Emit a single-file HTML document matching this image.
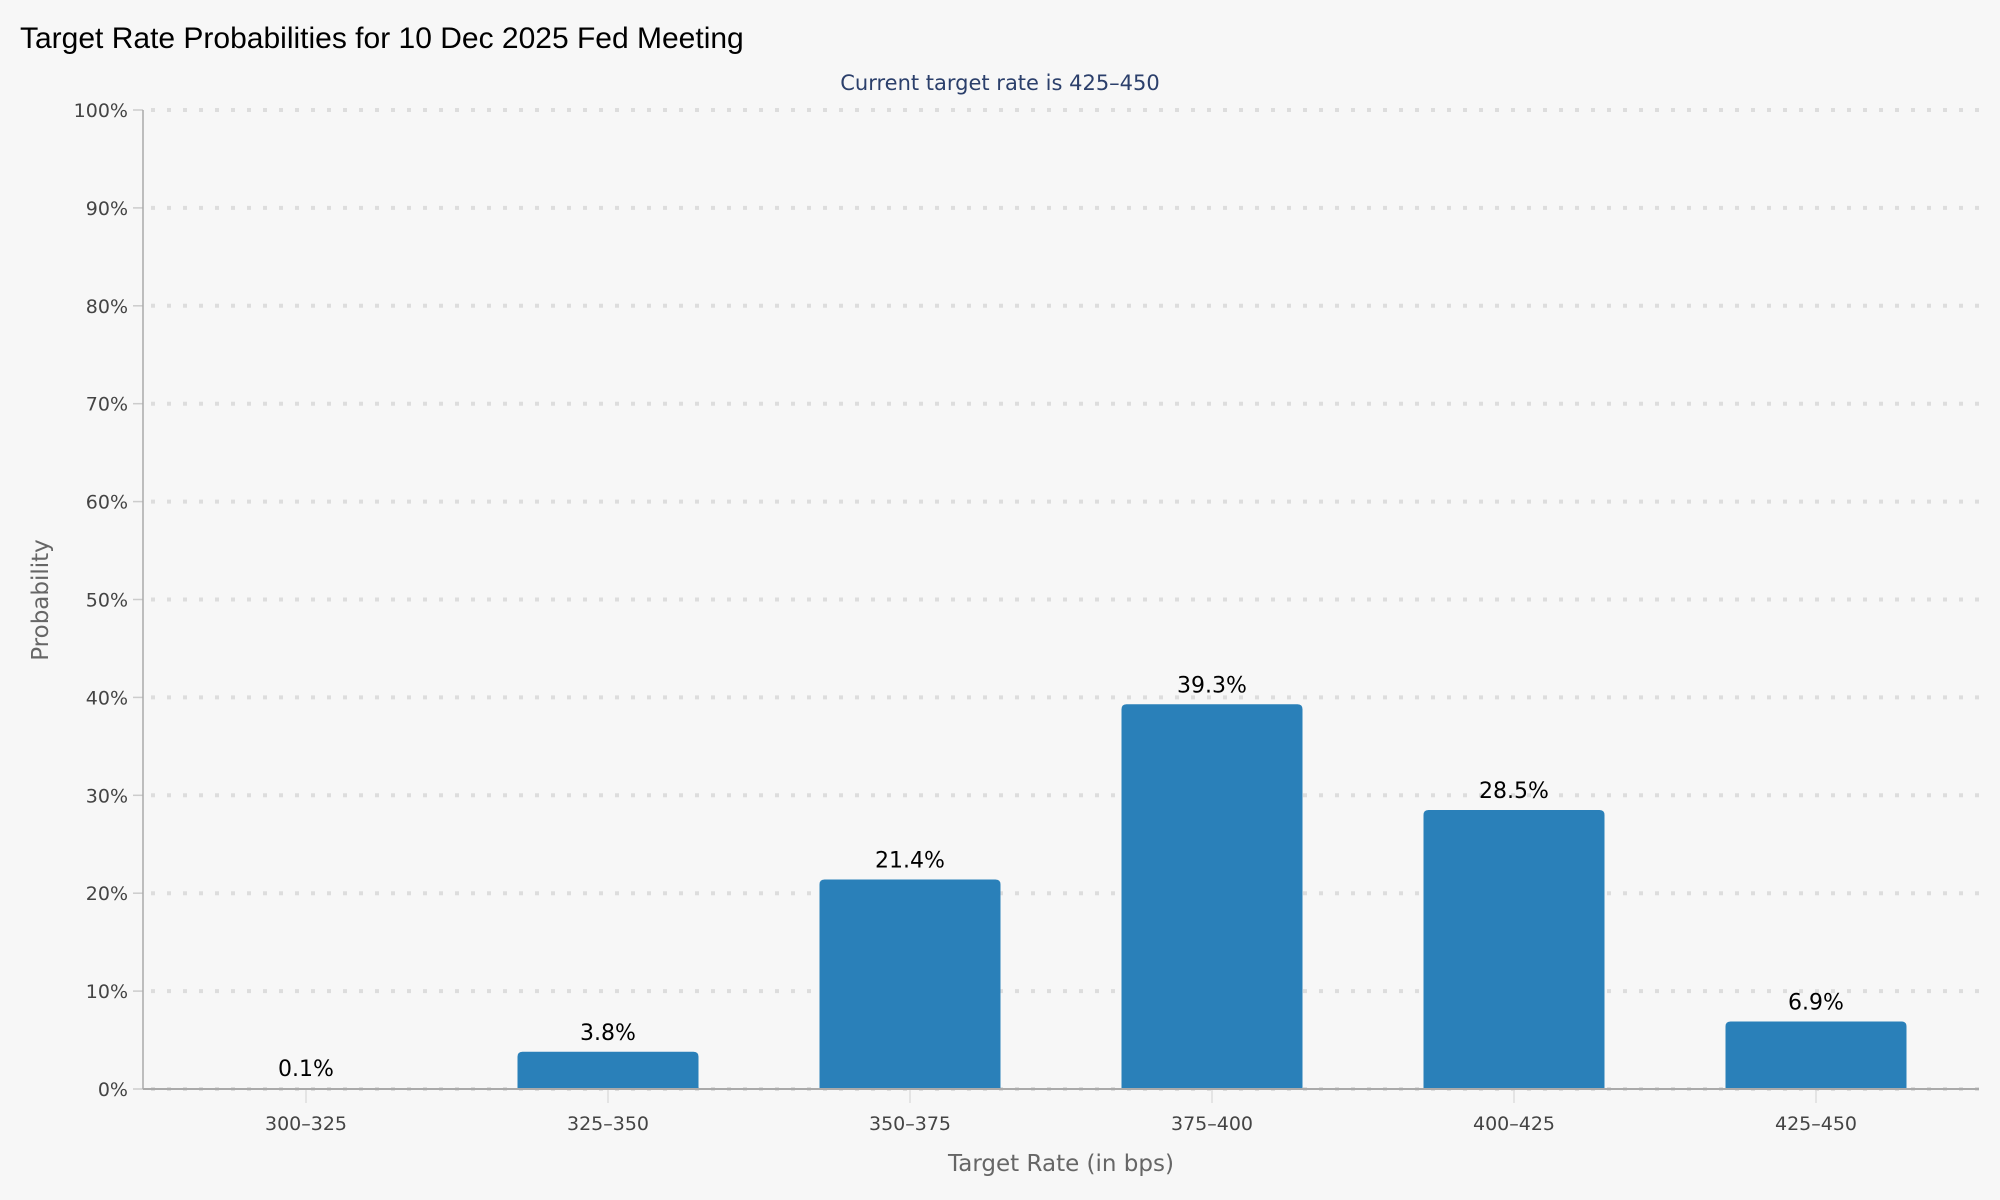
<!DOCTYPE html>
<html><head><meta charset="utf-8"><style>
html,body{margin:0;padding:0;background:#f7f7f7;}
svg{display:block;}
</style></head><body>
<svg id="chart" width="2000" height="1200" viewBox="0 0 2000 1200" xmlns="http://www.w3.org/2000/svg">
<rect width="2000" height="1200" fill="#f7f7f7"/>
<text x="20" y="48" font-family="Liberation Sans, sans-serif" font-size="30" fill="#000">Target Rate Probabilities for 10 Dec 2025 Fed Meeting</text>
<text x="1000" y="90" text-anchor="middle" font-family="DejaVu Sans, sans-serif" font-size="21" fill="#2b3f6b">Current target rate is 425–450</text>
<g id="grid"></g>
<g id="bars"></g>
<g id="labels"></g>
<line x1="143" y1="110" x2="143" y2="1089" stroke="#aaa" stroke-width="1.5"/>
<line x1="143" y1="1089" x2="1979" y2="1089" stroke="#aaa" stroke-width="2"/>
<text transform="translate(48,600) rotate(-90)" text-anchor="middle" font-family="DejaVu Sans, sans-serif" font-size="23" fill="#666">Probability</text>
<text x="1061" y="1171" text-anchor="middle" font-family="DejaVu Sans, sans-serif" font-size="23" fill="#666">Target Rate (in bps)</text>
</svg>
<script>
const categories = ["300–325","325–350","350–375","375–400","400–425","425–450"];
const probabilities = [0.1, 3.8, 21.4, 39.3, 28.5, 6.9];
const yTicks = [0,10,20,30,40,50,60,70,80,90,100];
const valueLabels = ["0.1%","3.8%","21.4%","39.3%","28.5%","6.9%"];

const NS = "http://www.w3.org/2000/svg";
const plotTop = 110, plotBottom = 1089, plotLeft = 143, plotRight = 1979;
const yScale = v => plotBottom - (v / 100) * (plotBottom - plotTop);
const band = 302, firstCenter = 306;
const xScale = i => firstCenter + i * band;
const barW = 181;

function mk(tag, attrs, parent, text) {
  const e = document.createElementNS(NS, tag);
  for (const k in attrs) e.setAttribute(k, attrs[k]);
  if (text !== undefined) e.textContent = text;
  parent.appendChild(e);
  return e;
}
const grid = document.getElementById('grid');
const bars = document.getElementById('bars');
const labels = document.getElementById('labels');

yTicks.forEach(t => {
  const y = yScale(t);
  const gl = mk('line', {x1: plotLeft + 8, y1: y, x2: plotRight, y2: y, stroke: '#dddddd', 'stroke-width': 4, 'stroke-dasharray': '4 12'}, grid);
  
  
  const tk = mk('line', {x1: plotLeft - 10, y1: y, x2: plotLeft, y2: y, stroke: '#ccc', 'stroke-width': 1.5}, grid);
  
  
  const lb = mk('text', {x: 128, y: y + 7, 'text-anchor': 'end', 'font-family': 'DejaVu Sans, sans-serif', 'font-size': 19, fill: '#444'}, labels, t + '%');
  
  
});

categories.forEach((c, i) => {
  const cx = xScale(i);
  const v = probabilities[i];
  const top = yScale(v);
  const h = plotBottom - top;
  const r = Math.min(5, h);
  if (h > 0.5) {
    const d = `M${cx - barW/2},${plotBottom} L${cx - barW/2},${top + r} Q${cx - barW/2},${top} ${cx - barW/2 + r},${top} L${cx + barW/2 - r},${top} Q${cx + barW/2},${top} ${cx + barW/2},${top + r} L${cx + barW/2},${plotBottom} Z`;
    const b = mk('path', {d: d, fill: '#2a80b9'}, bars);
    
    
  }
  const vl = mk('text', {x: cx, y: top - 12, 'text-anchor': 'middle', 'font-family': 'DejaVu Sans, sans-serif', 'font-size': 22, fill: '#000'}, labels, valueLabels[i]);
  
  
  const xt = mk('line', {x1: cx, y1: plotBottom, x2: cx, y2: plotBottom + 14, stroke: '#ddd', 'stroke-width': 1.5}, grid);
  
  
  const xl = mk('text', {x: cx, y: 1130, 'text-anchor': 'middle', 'font-family': 'DejaVu Sans, sans-serif', 'font-size': 19, fill: '#444'}, labels, c);
  
  
});
</script>
</body></html>
